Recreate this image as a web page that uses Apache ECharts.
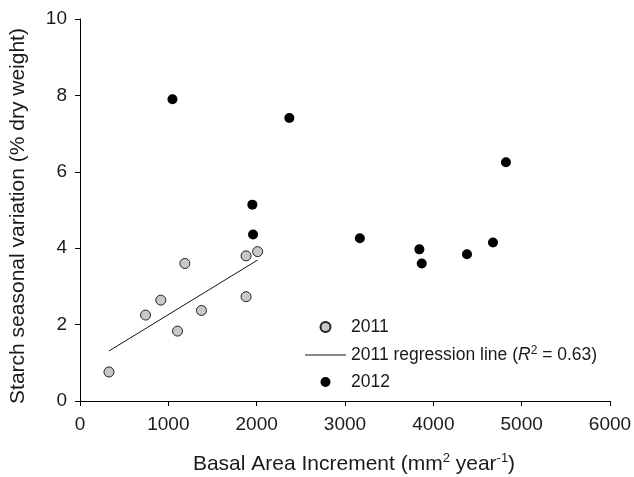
<!DOCTYPE html>
<html>
<head>
<meta charset="utf-8">
<script src="https://cdn.jsdelivr.net/npm/echarts@6/dist/echarts.min.js"></script>
<style>html,body{margin:0;padding:0;background:#fff;}#c{width:634px;height:477px;}</style>
</head>
<body>
<div id="c"></div>
<script>
var x2011 = [328, 742, 915, 1104, 1187, 1375, 1880, 1880, 2011];
var y2011 = [0.76, 2.25, 2.64, 1.83, 3.60, 2.37, 2.73, 3.80, 3.91];
var x2012 = [1047, 2370, 1951, 1959, 3168, 3842, 3869, 4381, 4675, 4822];
var y2012 = [7.90, 7.41, 5.14, 4.36, 4.26, 3.97, 3.60, 3.84, 4.15, 6.25];
var regX = [328, 2011];
var regY = [1.31, 3.69];
var xTicks = [0, 1000, 2000, 3000, 4000, 5000, 6000];
var yTicks = [0, 2, 4, 6, 8, 10];

function pairs(xs, ys) { return xs.map(function (v, i) { return [v, ys[i]]; }); }

var FONT = 'Liberation Sans, Arial, sans-serif';
var TXT = '#1a1a1a';
var chart = echarts.init(document.getElementById('c'), null, {renderer: 'canvas'});
chart.setOption({
  animation: false,
  backgroundColor: '#fff',
  textStyle: {fontFamily: FONT},
  grid: {left: 80, right: 24, top: 19, bottom: 76, outerBoundsMode: 'none', containLabel: false},
  xAxis: {
    type: 'value', min: xTicks[0], max: xTicks[xTicks.length - 1], interval: 1000,
    splitLine: {show: false},
    axisLine: {lineStyle: {color: '#000', width: 1}},
    axisTick: {length: 5, lineStyle: {color: '#000'}},
    axisLabel: {fontSize: 19, color: TXT, fontFamily: FONT, margin: 14, formatter: function (v) { return String(v); }},
    name: '{t|Basal Area Increment (mm}{s|2}{t| year}{s|-1}{t|)}',
    nameLocation: 'middle', nameGap: 51, nameMoveOverlap: false,
    nameTextStyle: {
      fontFamily: FONT, color: TXT, padding: [0, 0, 0, 18],
      rich: {
        t: {fontSize: 21, fontFamily: FONT, color: TXT, lineHeight: 24},
        s: {fontSize: 13, fontFamily: FONT, color: TXT, lineHeight: 13, verticalAlign: 'top'}
      }
    }
  },
  yAxis: {
    type: 'value', min: yTicks[0], max: yTicks[yTicks.length - 1], interval: 2,
    splitLine: {show: false},
    axisLine: {show: true, lineStyle: {color: '#000', width: 1}},
    axisTick: {show: true, length: 5, lineStyle: {color: '#000'}},
    axisLabel: {fontSize: 19, color: TXT, fontFamily: FONT, margin: 13},
    name: 'Starch seasonal variation (% dry weight)',
    nameLocation: 'middle', nameGap: 51, nameMoveOverlap: false,
    nameTextStyle: {fontSize: 21, color: TXT, fontFamily: FONT, padding: [0, 12, 0, 0]}
  },
  legend: {
    orient: 'vertical', left: 300, top: 313,
    itemWidth: 41, itemHeight: 10, itemGap: 9,
    textStyle: {
      fontSize: 18, color: TXT, fontFamily: FONT,
      rich: {
        f: {fontSize: 17.5, fontFamily: FONT, color: TXT, lineHeight: 20},
        t: {fontSize: 17.5, fontFamily: FONT, color: TXT, lineHeight: 20},
        i: {fontSize: 17.5, fontFamily: FONT, color: TXT, lineHeight: 20, fontStyle: 'italic'},
        s: {fontSize: 12, fontFamily: FONT, color: TXT, lineHeight: 10, verticalAlign: 'top'}
      }
    },
    formatter: function (n) {
      if (n.indexOf('regression') >= 0) return '{f|2011 regression line (}{i|R}{s|2}{t| = 0.63)}';
      return '{f|' + n + '}';
    },
    data: [
      {name: '2011'},
      {name: '2011 regression line', icon: 'path://M0,0L40,0L40,1L0,1Z'},
      {name: '2012'}
    ]
  },
  series: [
    {
      name: '2011', type: 'scatter', symbol: 'circle', symbolSize: 10,
      itemStyle: {color: '#c8c8c8', borderColor: '#222', borderWidth: 1, opacity: 1},
      data: pairs(x2011, y2011), z: 3
    },
    {
      name: '2011 regression line', type: 'line', symbol: 'none',
      lineStyle: {color: '#111', width: 1}, itemStyle: {color: '#111'},
      data: pairs(regX, regY), z: 2
    },
    {
      name: '2012', type: 'scatter', symbol: 'circle', symbolSize: 10,
      itemStyle: {color: '#000', opacity: 1},
      data: pairs(x2012, y2012), z: 3
    }
  ]
});
</script>
</body>
</html>
